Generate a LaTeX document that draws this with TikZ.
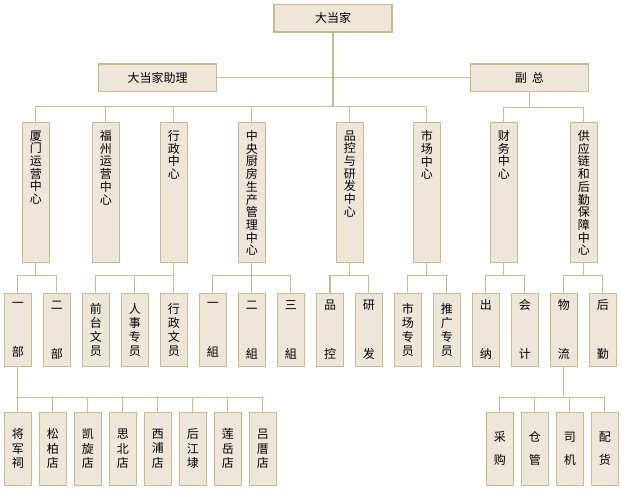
\documentclass[tikz,border=0pt]{standalone}
\usepackage{fontspec}
\newfontfamily\cjk{Noto Sans CJK SC}
\definecolor{bg}{HTML}{EFE6DA}
\definecolor{bd}{HTML}{C8B990}
\tikzset{
  box/.style={draw=bd, fill=bg, line width=1.2pt, inner sep=0pt, font=\cjk\fontsize{12}{14}\selectfont},
  topbox/.style={box, minimum width=118pt, minimum height=27.5pt},
  lvtwo/.style={box, minimum width=27pt, minimum height=140pt},
  lvthree/.style={box, minimum width=27pt, minimum height=73pt, align=center, font=\cjk\fontsize{12}{14}\selectfont},
  lvfour/.style={box, minimum width=27pt, minimum height=73pt, align=center, font=\cjk\fontsize{12}{14.5}\selectfont},
  conn/.style={draw=bd, line width=1.2pt},
}
\newcommand{\vtxt}[1]{\parbox[c][140pt][t]{27pt}{\centering\fontsize{12}{12.7}\selectfont\vspace*{8.2pt}#1\par}}
\begin{document}
\begin{tikzpicture}[x=1pt,y=-1pt]
\useasboundingbox (0,0) rectangle (622,490);
% top
\node[topbox] (top) at (333,18.3) {大当家};
\node[topbox, minimum width=118.5pt] (asst) at (157.5,77.8) {大当家助理};
\node[topbox] (vp) at (529.3,77.8) {副\hspace{5pt}总};
% level 2
\node[lvtwo] (c1) at (35.8,192.3) {\vtxt{厦\\门\\运\\营\\中\\心}};
\node[lvtwo] (c2) at (105.8,192.3) {\vtxt{福\\州\\运\\营\\中\\心}};
\node[lvtwo] (c3) at (173.8,192.3) {\vtxt{行\\政\\中\\心}};
\node[lvtwo] (c4) at (251.8,192.3) {\vtxt{中\\央\\厨\\房\\生\\产\\管\\理\\中\\心}};
\node[lvtwo] (c5) at (349.8,192.3) {\vtxt{品\\控\\与\\研\\发\\中\\心}};
\node[lvtwo] (c6) at (426.8,192.3) {\vtxt{市\\场\\中\\心}};
\node[lvtwo] (c7) at (503.8,192.3) {\vtxt{财\\务\\中\\心}};
\node[lvtwo] (c8) at (583.8,192.3) {\vtxt{供\\应\\链\\和\\后\\勤\\保\\障\\中\\心}};
% level 3
\node[lvthree] (d1) at (17.8,329.8) {一\\[35pt]部};
\node[lvthree] (d2) at (56.8,329.8) {二\\[35pt]部};
\node[lvthree] (d3) at (95.8,329.8) {前\\台\\文\\员};
\node[lvthree] (d4) at (134.8,329.8) {人\\事\\专\\员};
\node[lvthree] (d5) at (173.8,329.8) {行\\政\\文\\员};
\node[lvthree] (d6) at (212.8,329.8) {一\\[35pt]組};
\node[lvthree] (d7) at (251.8,329.8) {二\\[35pt]組};
\node[lvthree] (d8) at (290.8,329.8) {三\\[35pt]組};
\node[lvthree] (d9) at (330.0,329.8) {品\\[35pt]控};
\node[lvthree] (d10) at (368.8,329.8) {研\\[35pt]发};
\node[lvthree] (d11) at (407.8,329.8) {市\\场\\专\\员};
\node[lvthree] (d12) at (446.8,329.8) {推\\广\\专\\员};
\node[lvthree] (d13) at (485.8,329.8) {出\\[35pt]纳};
\node[lvthree] (d14) at (524.8,329.8) {会\\[35pt]计};
\node[lvthree] (d15) at (563.8,329.8) {物\\[35pt]流};
\node[lvthree] (d16) at (602.8,329.8) {后\\[35pt]勤};
% level 4
\node[lvfour] (e1) at (17.8,448.8) {将\\军\\祠};
\node[lvfour] (e2) at (52.8,448.8) {松\\柏\\店};
\node[lvfour] (e3) at (87.8,448.8) {凯\\旋\\店};
\node[lvfour] (e4) at (122.8,448.8) {思\\北\\店};
\node[lvfour] (e5) at (157.8,448.8) {西\\浦\\店};
\node[lvfour] (e6) at (192.8,448.8) {后\\江\\埭};
\node[lvfour] (e7) at (227.8,448.8) {莲\\岳\\店};
\node[lvfour] (e8) at (262.8,448.8) {吕\\厝\\店};
\node[lvfour] (f1) at (499.8,448.8) {采\\[8.5pt]购};
\node[lvfour] (f2) at (534.8,448.8) {仓\\[8.5pt]管};
\node[lvfour] (f3) at (569.8,448.8) {司\\[8.5pt]机};
\node[lvfour] (f4) at (604.8,448.8) {配\\[8.5pt]货};
% connectors level 1
\coordinate (bA) at (333,106.3);
\coordinate (bB) at (0,107.3);
\coordinate (bC) at (0,275.3);
\coordinate (bD) at (0,397.3);
\draw[conn] (top.south) -- (bA);
\draw[conn] (asst.east) -- (vp.west);
\draw[conn] (c1.north) -- (c1.north |- bA) -- (c6.north |- bA) -- (c6.north);
\foreach \n in {c2,c3,c4,c5} \draw[conn] (\n.north) -- (\n.north |- bA);
\draw[conn] (vp.south) -- (vp.south |- bB);
\draw[conn] (c7.north) -- (c7.north |- bB) -- (c8.north |- bB) -- (c8.north);
% level 2 -> 3
\foreach \p/\a/\b/\m in {c1/d1/d2/{}, c3/d3/d5/d4, c4/d6/d8/d7, c5/d9/d10/{}, c6/d11/d12/{}, c7/d13/d14/{}, c8/d15/d16/{}} {
  \draw[conn] (\p.south) -- (\p.south |- bC);
  \draw[conn] (\a.north) -- (\a.north |- bC) -- (\b.north |- bC) -- (\b.north);
}
\draw[conn] (d4.north) -- (d4.north |- bC);
\draw[conn] (d7.north) -- (d7.north |- bC);
% level 3 -> 4
\draw[conn] (d1.south) -- (d1.south |- bD);
\draw[conn] (e1.north) -- (e1.north |- bD) -- (e8.north |- bD) -- (e8.north);
\foreach \n in {e2,e3,e4,e5,e6,e7} \draw[conn] (\n.north) -- (\n.north |- bD);
\draw[conn] (d15.south) -- (d15.south |- bD);
\draw[conn] (f1.north) -- (f1.north |- bD) -- (f4.north |- bD) -- (f4.north);
\foreach \n in {f2,f3} \draw[conn] (\n.north) -- (\n.north |- bD);
\end{tikzpicture}
\end{document}
